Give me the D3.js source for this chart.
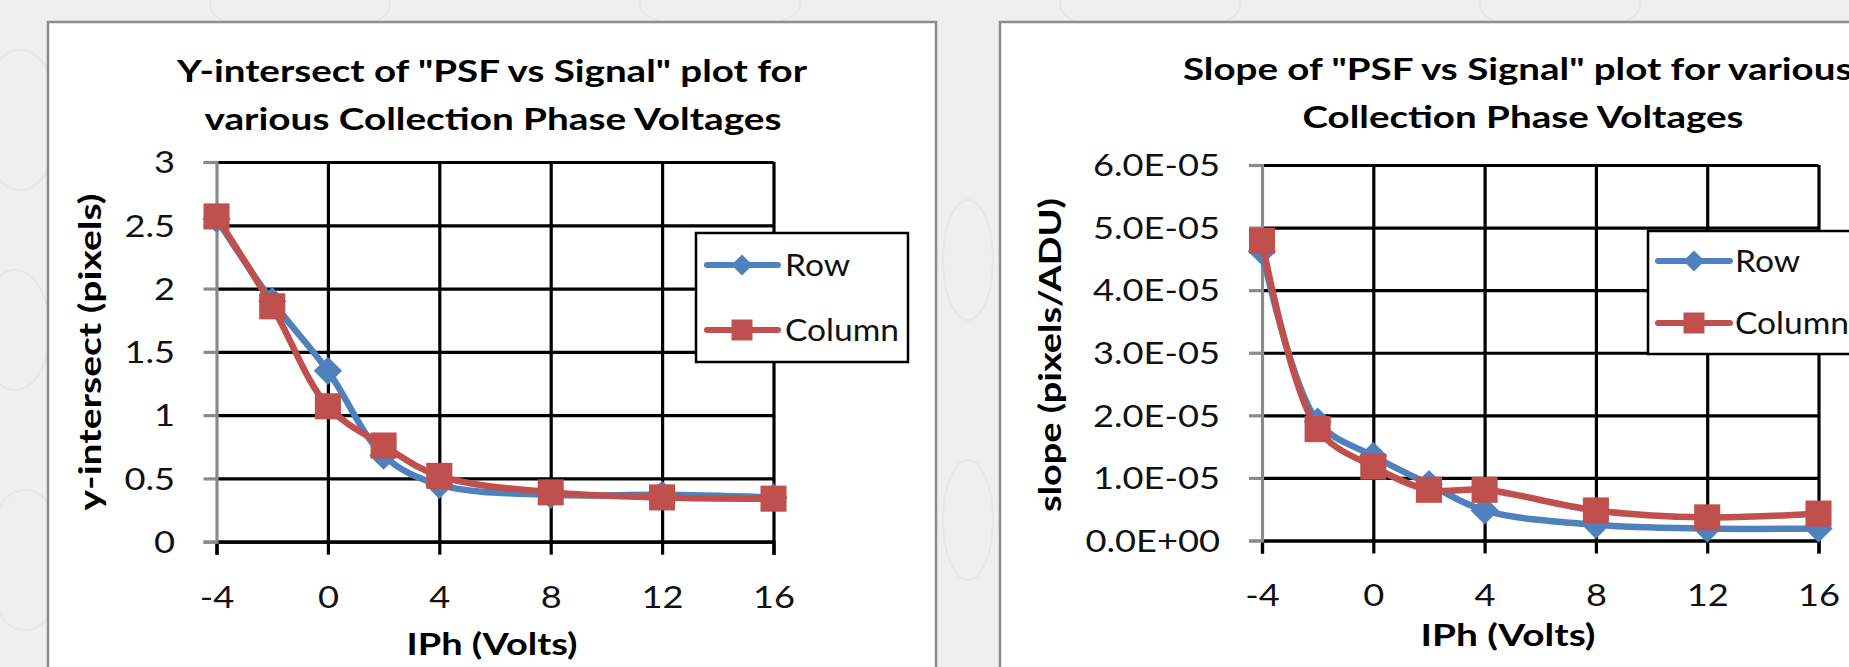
<!DOCTYPE html>
<html><head><meta charset="utf-8">
<script src="https://cdn.jsdelivr.net/npm/d3@7"></script>
<style>html,body{margin:0;padding:0;background:#efefef;overflow:hidden}</style>
</head><body><svg id="c" width="1849" height="667"></svg>
<script>
// ---------- data ----------
const xValues = [-4, -2, 0, 2, 4, 8, 12, 16];
const xTickValues = [-4, 0, 4, 8, 12, 16];
const xTickLabels = ["-4", "0", "4", "8", "12", "16"];
const seriesNames = ["Row", "Column"];

const yIntRow    = [2.55, 1.90, 1.35, 0.68, 0.45, 0.37, 0.37, 0.35];
const yIntColumn = [2.57, 1.86, 1.07, 0.76, 0.52, 0.39, 0.35, 0.34];
const yIntTicks = [0, 0.5, 1, 1.5, 2, 2.5, 3];
const yIntTickLabels = ["0", "0.5", "1", "1.5", "2", "2.5", "3"];

const slopeRow    = [4.62e-5, 1.9e-5, 1.35e-5, 0.9e-5, 0.48e-5, 0.25e-5, 0.19e-5, 0.19e-5];
const slopeColumn = [4.79e-5, 1.78e-5, 1.18e-5, 0.81e-5, 0.81e-5, 0.48e-5, 0.37e-5, 0.43e-5];
const slopeTicks = [0, 1e-5, 2e-5, 3e-5, 4e-5, 5e-5, 6e-5];
const slopeTickLabels = ["0.0E+00", "1.0E-05", "2.0E-05", "3.0E-05", "4.0E-05", "5.0E-05", "6.0E-05"];

const leftTitle = ['Y-intersect of "PSF vs Signal"  plot for', 'various Collection Phase Voltages'];
const rightTitle = ['Slope of "PSF vs Signal" plot for various', 'Collection Phase Voltages'];
const leftYTitle = "y-intersect (pixels)";
const rightYTitle = "slope (pixels/ADU)";
const xTitle = "IPh (Volts)";

// ---------- style ----------
const COLORS = {Row: "#4F81BD", Column: "#C0504D"};
const FONT = "Lato, 'Open Sans', sans-serif";
const svg = d3.select("#c");

// very faint background texture
const bg = svg.append("g").attr("fill", "none").attr("stroke", "#e7e7e7").attr("stroke-width", 2);
[[20, 120, 40, 70], [15, 330, 35, 60], [25, 560, 40, 70], [300, 5, 90, 30], [720, 5, 80, 25],
 [1150, 5, 90, 30], [1560, 5, 80, 28], [968, 260, 25, 60], [968, 520, 25, 60]].forEach(e => {
  bg.append("ellipse").attr("cx", e[0]).attr("cy", e[1]).attr("rx", e[2]).attr("ry", e[3]);
});

function fitWidth(sel, w) {
  sel.attr("textLength", w).attr("lengthAdjust", "spacingAndGlyphs");
}
function stretch(sel, f) {
  sel.each(function () {
    const n = d3.select(this);
    fitWidth(n, this.getComputedTextLength() * f);
  });
}
function measure(txt, size, weight) {
  const p = svg.append("text").text(txt).style("font-family", FONT)
    .style("font-size", size + "px").style("font-weight", weight || "normal");
  const w = p.node().getComputedTextLength();
  p.remove();
  return w;
}
const tickStretch = 127 / measure("6.0E-05", 30);
const legendStretch = 114 / measure("Column", 30);
const titleScale = 630 / measure(leftTitle[0], 30, "bold");

function drawChart(cfg) {
  const g = svg.append("g");
  g.append("rect").attr("x", cfg.frame[0]).attr("y", cfg.frame[1])
    .attr("width", cfg.frame[2]).attr("height", cfg.frame[3])
    .attr("fill", "#fff").attr("stroke", "#8c8c8c").attr("stroke-width", 2.5);

  const x = d3.scaleLinear().domain([-4, 16]).range([cfg.plot.x0, cfg.plot.x1]);
  const y = d3.scaleLinear().domain(cfg.yDomain).range([cfg.plot.y0, cfg.plot.y1]);
  const pw = cfg.plot.x1 - cfg.plot.x0, ph = cfg.plot.y0 - cfg.plot.y1;

  const xg = g.append("g").attr("transform", `translate(0,${cfg.plot.y0})`)
    .call(d3.axisBottom(x).tickValues(xTickValues.slice(1)).tickSize(-ph).tickFormat(""));
  xg.select(".domain").remove();
  xg.selectAll("line").attr("stroke", "#000").attr("stroke-width", 3.2);
  const yg = g.append("g").attr("transform", `translate(${cfg.plot.x0},0)`)
    .call(d3.axisLeft(y).tickValues(cfg.yTicks).tickSize(-pw).tickFormat(""));
  yg.select(".domain").remove();
  yg.selectAll("line").attr("stroke", "#000").attr("stroke-width", 3.2);

  const xa = g.append("g").attr("transform", `translate(0,${cfg.plot.y0})`)
    .call(d3.axisBottom(x).tickValues(xTickValues).tickSize(13)
      .tickFormat((d, i) => xTickLabels[i]));
  xa.select(".domain").attr("stroke", "#000").attr("stroke-width", 3.2);
  xa.selectAll("line").attr("stroke", "#000").attr("stroke-width", 3.2);
  xa.selectAll("text").attr("y", cfg.xLabelBaseline - cfg.plot.y0).attr("dy", 0)
    .style("font-family", FONT).style("font-size", "30px").attr("fill", "#111");
  stretch(xa.selectAll("text"), tickStretch);

  const ya = g.append("g").attr("transform", `translate(${cfg.plot.x0},0)`)
    .call(d3.axisLeft(y).tickValues(cfg.yTicks).tickSize(13)
      .tickPadding(cfg.plot.x0 - cfg.yLabelX - 13)
      .tickFormat((d, i) => cfg.yTickLabels[i]));
  ya.select(".domain").attr("stroke", "#8a8a8a").attr("stroke-width", 3.2);
  ya.selectAll("line").attr("stroke", "#8a8a8a").attr("stroke-width", 3.2);
  ya.selectAll("text").attr("dy", "0.36em")
    .style("font-family", FONT).style("font-size", "30px").attr("fill", "#111");
  stretch(ya.selectAll("text"), tickStretch);

  const line = d3.line().x((d, i) => x(xValues[i])).y(d => y(d))
    .curve(d3.curveCatmullRom.alpha(0.5));
  cfg.series.forEach(s => {
    const c = COLORS[s.name];
    g.append("path").datum(s.values).attr("d", line).attr("fill", "none")
      .attr("stroke", c).attr("stroke-width", 6.5)
      .attr("stroke-linejoin", "round").attr("stroke-linecap", "round");
    const sym = s.name === "Row" ? d3.symbol(d3.symbolSquare, 400) : d3.symbol(d3.symbolSquare, 680);
    g.selectAll(null).data(s.values).enter().append("path")
      .attr("d", sym)
      .attr("transform", (d, i) => `translate(${x(xValues[i])},${y(d)})` + (s.name === "Row" ? " rotate(45)" : ""))
      .attr("fill", c);
  });

  const L = cfg.legend;
  g.append("rect").attr("x", L.box[0]).attr("y", L.box[1]).attr("width", L.box[2]).attr("height", L.box[3])
    .attr("fill", "#fff").attr("stroke", "#000").attr("stroke-width", 2.5);
  seriesNames.forEach((name, i) => {
    const ly = L.rows[i], c = COLORS[name];
    g.append("line").attr("x1", L.lineX[0]).attr("x2", L.lineX[1]).attr("y1", ly).attr("y2", ly)
      .attr("stroke", c).attr("stroke-width", 6).attr("stroke-linecap", "round");
    const sym = name === "Row" ? d3.symbol(d3.symbolSquare, 225) : d3.symbol(d3.symbolSquare, 441);
    g.append("path").attr("d", sym)
      .attr("transform", `translate(${L.markX},${ly})` + (name === "Row" ? " rotate(45)" : ""))
      .attr("fill", c);
    const t = g.append("text").attr("x", L.textX).attr("y", ly + 11).text(name)
      .style("font-family", FONT).style("font-size", "30px").attr("fill", "#111");
    stretch(t, legendStretch);
  });

  cfg.title.forEach((t, i) => {
    const tt = g.append("text").attr("x", t.x).attr("y", t.y).attr("text-anchor", t.anchor)
      .text(cfg.titleText[i]).style("font-family", FONT).style("font-size", "30px")
      .style("font-weight", "bold").attr("fill", "#000");
    if (t.w) fitWidth(tt, t.w);
    else stretch(tt, titleScale);
  });
  const yt = g.append("text").attr("transform", `translate(${cfg.yTitle.x},${cfg.yTitle.y}) rotate(-90)`)
    .attr("text-anchor", "middle").attr("dy", "0.27em").text(cfg.yTitleText)
    .style("font-family", FONT).style("font-size", "31px").style("font-weight", "bold").attr("fill", "#000");
  fitWidth(yt, cfg.yTitle.w);
  const xt = g.append("text").attr("x", cfg.xTitle.x).attr("y", cfg.xTitle.y)
    .attr("text-anchor", "middle").text(xTitle)
    .style("font-family", FONT).style("font-size", "31px").style("font-weight", "bold").attr("fill", "#000");
  fitWidth(xt, cfg.xTitle.w);
}

drawChart({
  frame: [48, 22, 888, 700],
  plot: {x0: 216.5, x1: 773.5, y0: 541.7, y1: 162},
  yDomain: [0, 3], yTicks: yIntTicks, yTickLabels: yIntTickLabels,
  yLabelX: 175, xLabelBaseline: 608,
  series: [{name: "Row", values: yIntRow}, {name: "Column", values: yIntColumn}],
  legend: {box: [696, 233, 212, 129], rows: [265, 330], lineX: [707, 778], markX: 742, textX: 785},
  titleText: leftTitle,
  title: [{x: 492, y: 82, anchor: "middle", w: 630}, {x: 493, y: 130, anchor: "middle", w: 577}],
  yTitleText: leftYTitle, yTitle: {x: 93, y: 352, w: 317},
  xTitle: {x: 492, y: 655, w: 171}
});

drawChart({
  frame: [1000, 22, 1100, 700],
  plot: {x0: 1262, x1: 1818.5, y0: 540.5, y1: 165},
  yDomain: [0, 6e-5], yTicks: slopeTicks, yTickLabels: slopeTickLabels,
  yLabelX: 1220, xLabelBaseline: 606,
  series: [{name: "Row", values: slopeRow}, {name: "Column", values: slopeColumn}],
  legend: {box: [1648, 231, 400, 123], rows: [261, 323], lineX: [1658, 1730], markX: 1694, textX: 1735},
  titleText: rightTitle,
  title: [{x: 1183, y: 80, anchor: "start"}, {x: 1523, y: 128, anchor: "middle", w: 441}],
  yTitleText: rightYTitle, yTitle: {x: 1053, y: 355, w: 314},
  xTitle: {x: 1508, y: 646, w: 175}
});
</script></body></html>
